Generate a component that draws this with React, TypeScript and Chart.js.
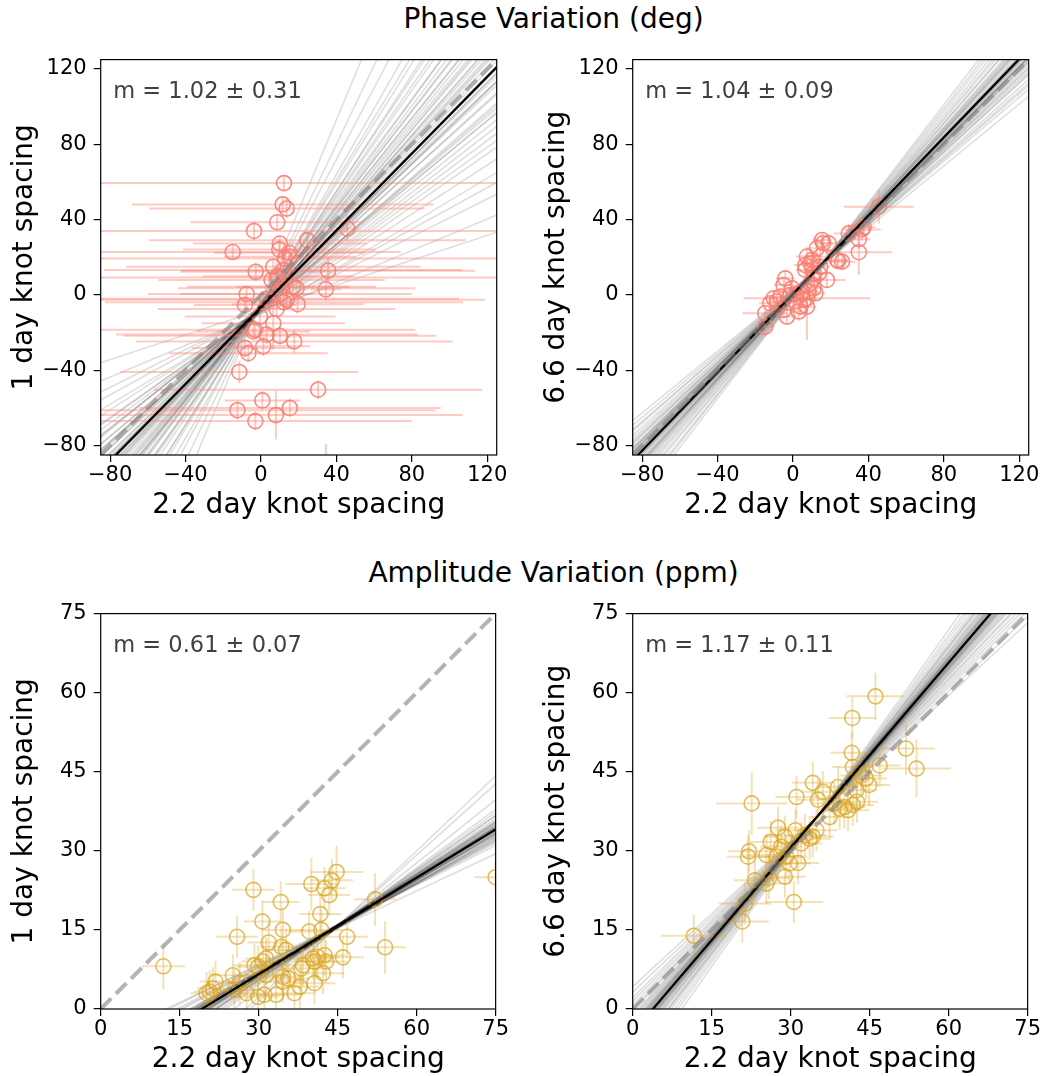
import React, { useEffect, useRef } from 'react';
import { Chart, registerables } from 'chart.js';

Chart.register(...registerables);

const FONT = "'DejaVu Sans', 'Liberation Sans', sans-serif";

// ---------- axis ranges / ticks ----------
const phaseRange = [-85, 125];
const phaseTicks = [-80, -40, 0, 40, 80, 120];
const ampRange = [0, 75];
const ampTicks = [0, 15, 30, 45, 60, 75];

// ---------- Phase: 1 day vs 2.2 day ----------
const tlX = [12.2, 11.5, 13.6, 8.6, -3.7, 45.7, 24.5, 10.0, 9.7, -15.0, 15.0, 12.7, 6.5, -2.8, 35.6, 11.8, 5.6, 8.3, 17.0, 18.9, 34.4, -7.6, -8.5, 12.2, 19.4, 8.3, 13.6, -0.5, 6.5, -3.2, -4.0, 3.0, 10.0, 17.6, 1.2, -8.5, -6.7, -11.5, 30.3, 0.7, -12.5, 15.3, 7.9, -3.0, 34.4, 9.0, 15.3, 11.0, 3.0, 10.0];
const tlY = [59.4, 48.1, 45.9, 38.6, 34.0, 35.3, 29.1, 27.3, 24.2, 22.8, 22.4, 19.4, 15.0, 12.3, 12.9, 13.2, 7.9, 9.3, 4.4, 3.5, 3.0, 0.5, -5.3, -3.9, -4.9, -7.4, -2.6, -11.5, -15.0, -18.5, -19.4, -21.0, -21.7, -24.7, -27.3, -28.2, -30.9, -40.9, -50.3, -56.0, -61.2, -60.0, -63.8, -67.0, -95.0, 10.0, 20.3, 4.4, -2.0, 0.5];
const tlXErr = [120, 80, 73, 46, 130, 6, 84, 46, 51, 89, 40, 120, 78, 40, 78, 95, 60, 125, 30, 63, 8, 35, 27, 95, 35, 63, 105, 40, 38, 85, 30, 80, 83, 84, 25, 28, 42, 63, 87, 20, 105, 80, 99, 83, 10, 40, 35, 50, 102, 70];
const tlYErr = [4, 4, 5, 4, 5, 7, 4, 4, 5, 4, 4, 4, 4, 5, 7, 4, 4, 4, 4, 4, 6, 4, 5, 4, 5, 4, 4, 4, 14, 4, 4, 5, 5, 6, 5, 5, 5, 6, 5, 5, 5, 5, 13, 5, 16, 4, 4, 4, 4, 4];
const tlSlopes = [1.02, 0.85, 1.2, 0.95, 1.1, 0.7, 1.35, 0.33, 1.55, 0.9, 1.28, 0.6, 1.75, 1.05, 0.78, 1.45, 0.98, 2.1, 0.5, 1.15, 1.65, 0.88, 1.25, 0.42, 1.38, 0.93, 1.08, 2.4, 0.72, 1.18, 0.82, 1.5, 1.0, 0.65, 1.3, 1.9, 0.97, 1.12, 0.55, 1.6, 0.8, 1.22, 1.42, 0.75, 1.03, 1.0, 1.06, 0.92, 1.14, 0.87, 1.19, 1.01, 0.96, 1.09, 1.24, 0.84, 1.33];
const tlIntercepts = [-6.5, -7, -8, -5, -6, -9, -4, -8, -7, -6, -5, -10, -6, -7, -8, -5, -6, -4, -9, -7, -5, -8, -6, -10, -7, -5, -6, -3, -8, -7, -6, -5, -7, -9, -6, -4, -8, -6, -9, -5, -7, -6, -5, -8, -7, -7, -6, -7.5, -6.5, -8, -5.5, -6, -7, -6, -5.5, -8, -6];
const tlFitM = 1.02;
const tlFitB = -6.5;

// ---------- Phase: 6.6 day vs 2.2 day ----------
const trX = [45.5, 29.6, 36.5, 34.9, 34.9, 15.4, 18.9, 12.7, 7.4, 9.2, 6.5, 23.4, 26.0, 14.5, 18.0, -4.1, -5.0, 11.0, 11.9, 7.4, 1.2, 3.9, 3.0, -3.2, -12.0, -14.7, -14.7, -8.5, -1.4, -6.7, 2.1, 4.8, 9.2, 11.0, 14.5, 10.1, 6.5, 13.6, -0.5, 5.7, 7.4, -10.3, -5.0, 8.3, 11.0, 37.5, 16.0, 24.0];
const trY = [46.9, 32.7, 34.8, 29.6, 22.7, 29.2, 27.4, 24.8, 20.4, 16.8, 15.9, 18.6, 17.7, 15.0, 8.0, 8.8, 5.3, 11.5, 0.9, -1.8, -3.5, -6.2, -8.8, -11.5, -4.4, -9.7, -16.8, -3.5, 0.0, -0.9, 0.9, 1.8, 6.2, 8.8, 20.4, 18.6, 13.3, 11.5, 3.5, -2.7, -6.2, -1.8, -8.0, 1.8, 3.5, 35.9, 27.5, 18.0];
const trXErr = [18.6, 8, 10, 6, 17.7, 5, 5, 6, 6, 5, 6, 6, 7, 5, 10, 5, 5, 5, 5, 33.6, 5, 5, 5, 5, 6, 12, 5, 5, 5, 5, 5, 5, 5, 5, 5, 5, 5, 5, 5, 5, 5, 5, 5, 5, 5, 6, 5, 5];
const trYErr = [9, 5, 6, 5, 12, 4, 4, 4, 4, 4, 4, 4, 4, 4, 4, 4, 4, 4, 4, 22, 4, 4, 5, 4, 4, 4, 5, 4, 4, 4, 4, 4, 4, 4, 4, 4, 4, 4, 4, 4, 4, 4, 4, 4, 4, 5, 4, 4];
const trSlopes = [1.04, 0.95, 1.1, 0.88, 1.15, 1.0, 1.2, 0.92, 1.06, 0.98, 1.25, 0.85, 1.12, 1.02, 0.96, 1.18, 0.9, 1.08, 1.3, 0.94, 1.13, 1.0, 0.87, 1.22, 1.05, 0.99, 1.16, 0.93, 1.09, 1.03, 0.82, 1.27, 1.01, 0.97, 1.11, 1.04, 1.02, 1.06, 1.0, 1.08, 1.03, 1.05, 0.98, 1.1, 1.01];
const trIntercepts = [0.5, 1.5, -0.5, 2.5, -1, 1, -2, 2, 0, 1.5, -2.5, 3, -1, 0.5, 1, -1.5, 2, 0, -3, 1.5, -1, 0.5, 2.5, -2, 0, 1, -1.5, 1.5, -0.5, 0.5, 3, -2.5, 0, 1, -0.5, 0, 1, -0.5, 1.5, -1, 0.5, 0, 1, -1, 0.5];
const trFitM = 1.04;
const trFitB = 0.5;

// ---------- Amplitude: 1 day vs 2.2 day ----------
const blX = [11.9, 29.0, 25.9, 30.7, 34.2, 34.6, 31.9, 40.0, 41.7, 42.5, 43.4, 43.9, 44.8, 39.6, 41.9, 46.8, 52.1, 54.0, 46.0, 75.0, 25.1, 21.8, 20.7, 20.1, 21.3, 29.2, 30.8, 31.4, 34.3, 35.2, 38.4, 38.1, 40.3, 41.2, 42.5, 42.8, 40.6, 42.2, 40.6, 37.8, 36.8, 33.3, 31.1, 29.9, 27.7, 34.6, 35.6, 34.6, 31.4, 25.4, 26.4, 29.9];
const blY = [8.1, 22.6, 13.7, 16.6, 20.3, 15.0, 12.6, 23.7, 18.0, 22.9, 21.6, 24.4, 26.0, 14.7, 15.0, 13.7, 20.8, 11.7, 9.8, 25.0, 6.4, 5.2, 3.3, 3.0, 3.9, 8.3, 9.0, 9.6, 11.8, 11.2, 8.3, 7.7, 9.6, 9.9, 10.2, 9.0, 9.0, 6.8, 4.9, 4.2, 3.0, 2.7, 2.7, 2.3, 3.0, 6.1, 5.8, 5.2, 6.4, 3.6, 4.9, 8.0];
const blXErr = [4.1, 4, 4, 3.5, 3.5, 4, 4, 5, 4, 4, 4, 4, 5, 4, 4, 4, 4, 4, 4, 4, 4, 3, 3, 3, 3, 4, 4, 4, 4, 4, 4, 4, 4, 4, 4, 4, 4, 4, 4, 4, 4, 4, 4, 4, 4, 4, 4, 4, 4, 4, 4, 4];
const blYErr = [4.4, 4, 4, 4, 4, 4, 4, 5, 4, 4, 4, 4, 5, 4, 4, 4, 5, 5, 4, 3, 4, 4, 4, 4, 4, 4, 4, 4, 4, 4, 4, 4, 4, 4, 4, 4, 4, 4, 4, 4, 4, 4, 4, 4, 4, 4, 4, 4, 4, 4, 4, 4];
const blSlopes = [0.61, 0.55, 0.66, 0.58, 0.64, 0.52, 0.7, 0.6, 0.63, 0.57, 0.68, 0.62, 0.5, 0.74, 0.59, 0.65, 0.56, 0.8, 0.62, 0.6, 0.67, 0.54, 0.63, 0.9, 0.58, 0.61, 0.72, 0.64, 0.57, 0.66, 0.95, 0.53, 0.6, 0.69, 0.62, 0.47, 0.6, 0.62, 0.59, 0.63, 0.61, 0.58, 0.64, 0.6, 0.62, 0.57];
const blIntercepts = [-11.75, -9.3, -13.8, -10.4, -13.4, -7.5, -15.8, -11.0, -12.9, -9.7, -14.9, -12.4, -6.5, -17.6, -10.6, -13.3, -9.7, -20.3, -11.9, -11.6, -14.7, -8.4, -12.3, -24.8, -10.9, -11.4, -16.7, -12.8, -10.2, -14.2, -27.0, -8.0, -11.5, -15.1, -12.5, -5.8, -11.3, -12.2, -10.85, -12.65, -11.75, -10.4, -13.1, -11.1, -12.0, -9.95];
const blFitM = 0.61;
const blFitB = -11.7;

// ---------- Amplitude: 6.6 day vs 2.2 day ----------
const brX = [11.6, 20.8, 21.3, 21.9, 22.1, 22.6, 23.2, 25.4, 25.9, 25.4, 26.2, 27.6, 27.3, 28.9, 28.9, 29.8, 30.6, 31.1, 30.9, 31.4, 32.0, 34.2, 35.2, 36.1, 34.2, 34.9, 37.4, 39.3, 41.7, 41.6, 46.1, 41.8, 42.6, 40.9, 40.2, 44.9, 44.3, 46.9, 51.9, 53.9, 42.5, 32.7, 33.6, 38.3, 41.8, 39.0, 43.4, 29.2, 28.2];
const brY = [13.9, 16.6, 20.0, 28.9, 29.9, 39.0, 24.4, 23.8, 24.8, 29.2, 31.7, 34.4, 28.9, 25.1, 32.7, 27.6, 20.3, 40.2, 33.9, 27.7, 31.4, 42.9, 39.7, 41.2, 32.7, 33.9, 36.4, 38.0, 55.2, 48.6, 59.3, 45.9, 39.3, 37.7, 38.3, 42.5, 43.7, 46.2, 49.4, 45.6, 41.5, 33.0, 32.3, 39.0, 38.7, 42.1, 44.3, 28.9, 30.8];
const brXErr = [6.2, 5, 5, 4, 4, 6.8, 4, 4, 4, 4, 4, 4, 4, 4, 4, 4, 5.5, 4, 4, 4, 4, 4, 4, 4, 4, 4, 4, 4, 4.5, 4, 5.5, 4, 4, 4, 4, 4, 4, 4, 5.5, 6.5, 4, 4, 4, 4, 4, 4, 4, 4, 4];
const brYErr = [4, 4, 4, 4, 4, 6, 4, 4, 4, 4, 4, 4, 4, 4, 4, 4, 4, 4, 4, 4, 4, 4, 4, 4, 4, 4, 4, 4, 4, 4, 4.5, 4, 4, 4, 4, 4, 4, 4, 5, 5.5, 4, 4, 4, 4, 4, 4, 4, 4, 4];
const brSlopes = [1.17, 1.05, 1.28, 1.1, 1.22, 0.98, 1.35, 1.14, 1.2, 1.08, 1.3, 1.16, 0.92, 1.42, 1.12, 1.25, 1.02, 1.19, 1.15, 1.26, 1.07, 1.38, 1.13, 1.21, 1.0, 1.32, 1.18, 1.09, 1.24, 0.95, 1.11, 1.29, 1.16, 1.04, 1.23, 1.17, 1.15, 1.19, 1.13, 1.21, 1.16, 1.18, 1.14, 1.2, 1.12];
const brIntercepts = [-4.5, -0.3, -8.35, -2.05, -6.25, 2.15, -10.8, -3.45, -5.55, -1.35, -9.05, -4.15, 4.25, -13.25, -2.75, -7.3, 0.75, -5.2, -3.8, -7.65, -1.0, -11.85, -3.1, -5.9, 1.45, -9.75, -4.85, -1.7, -6.95, 3.2, -2.4, -8.7, -4.15, 0.05, -6.6, -4.5, -3.8, -5.2, -3.1, -5.9, -4.15, -4.85, -3.45, -5.55, -2.75];
const brFitM = 1.17;
const brFitB = -4.5;

// ---------- colours ----------
const salmonPoint = 'rgba(250,128,114,0.9)';
const salmonBar = 'rgba(250,128,114,0.42)';
const goldPoint = 'rgba(218,165,32,0.72)';
const goldBar = 'rgba(218,165,32,0.32)';
const sampleColor = 'rgba(0,0,0,0.13)';

const CANVAS_W = 510;
const CANVAS_H = 483;
const LABEL_SIZE = 28;

const errorBarPlugin = {
  id: 'errbars',
  beforeDatasetDraw(chart: any, args: any) {
    const ds = chart.data.datasets[args.index];
    if (!ds.errX) return;
    const { ctx, chartArea } = chart;
    const xs = chart.scales.x;
    const ys = chart.scales.y;
    ctx.save();
    ctx.beginPath();
    ctx.rect(chartArea.left, chartArea.top, chartArea.right - chartArea.left, chartArea.bottom - chartArea.top);
    ctx.clip();
    ctx.strokeStyle = ds.errColor;
    ctx.lineWidth = 2;
    ds.data.forEach((p: any, i: number) => {
      const px = xs.getPixelForValue(p.x);
      const py = ys.getPixelForValue(p.y);
      ctx.beginPath();
      ctx.moveTo(xs.getPixelForValue(p.x - ds.errX[i]), py);
      ctx.lineTo(xs.getPixelForValue(p.x + ds.errX[i]), py);
      ctx.stroke();
      ctx.beginPath();
      ctx.moveTo(px, ys.getPixelForValue(p.y - ds.errY[i]));
      ctx.lineTo(px, ys.getPixelForValue(p.y + ds.errY[i]));
      ctx.stroke();
    });
    ctx.restore();
  },
};

const framePlugin = {
  id: 'frame',
  afterDraw(chart: any, _args: any, opts: any) {
    const { ctx, chartArea } = chart;
    const { left, top, right, bottom } = chartArea;
    ctx.save();
    ctx.strokeStyle = '#000';
    ctx.lineWidth = 1.2;
    ctx.strokeRect(left, top, right - left, bottom - top);
    ctx.font = `22.5px ${FONT}`;
    ctx.fillStyle = '#404040';
    ctx.textBaseline = 'alphabetic';
    ctx.textAlign = 'left';
    ctx.fillText(opts.text, left + 12.6, top + 38.7);
    ctx.restore();
  },
};

const fmt = (v: any) => String(v).replace('-', '\u2212');

type PanelProps = {
  left: number;
  top: number;
  xs: number[];
  ys: number[];
  xErr: number[];
  yErr: number[];
  slopes: number[];
  intercepts: number[];
  fitM: number;
  fitB: number;
  range: number[];
  ticks: number[];
  yLabel: string;
  mText: string;
  pointColor: string;
  barColor: string;
};

function Panel(p: PanelProps) {
  const ref = useRef<HTMLCanvasElement>(null);
  useEffect(() => {
    if (!ref.current) return;
    const [lo, hi] = p.range;
    const datasets: any[] = [];
    p.slopes.forEach((m, i) => {
      const b = p.intercepts[i];
      datasets.push({
        data: [
          { x: lo, y: m * lo + b },
          { x: hi, y: m * hi + b },
        ],
        showLine: true,
        borderColor: sampleColor,
        borderWidth: 1.6,
        pointRadius: 0,
        order: 10,
      });
    });
    datasets.push({
      data: p.xs.map((x, i) => ({ x, y: p.ys[i] })),
      showLine: false,
      pointRadius: 7.5,
      pointBorderWidth: 1.6,
      pointBorderColor: p.pointColor,
      pointBackgroundColor: 'rgba(0,0,0,0)',
      borderColor: p.pointColor,
      backgroundColor: 'rgba(0,0,0,0)',
      errX: p.xErr,
      errY: p.yErr,
      errColor: p.barColor,
      order: 5,
    });
    datasets.push({
      data: [
        { x: lo, y: p.fitM * lo + p.fitB },
        { x: hi, y: p.fitM * hi + p.fitB },
      ],
      showLine: true,
      borderColor: '#000',
      borderWidth: 2.2,
      pointRadius: 0,
      order: 2,
    });
    datasets.push({
      data: [
        { x: lo, y: lo },
        { x: hi, y: hi },
      ],
      showLine: true,
      borderColor: 'rgba(128,128,128,0.6)',
      borderWidth: 4,
      borderDash: [15, 6.5],
      pointRadius: 0,
      order: 1,
    });

    const tickOpts = (pad: number) => ({
      font: { family: FONT, size: 21 },
      color: '#000',
      padding: pad,
      maxRotation: 0,
      autoSkip: false,
      callback: (v: any) => fmt(v),
    });
    const gridOpts = {
      drawOnChartArea: false,
      drawTicks: true,
      tickLength: 7,
      color: '#000',
      lineWidth: 1.2,
    };

    const chart = new Chart(ref.current, {
      type: 'scatter',
      data: { datasets },
      options: {
        animation: false,
        responsive: false,
        events: [],
        layout: { padding: { left: 0, right: 13.3, top: 19.3, bottom: 0 } },
        plugins: {
          legend: { display: false },
          tooltip: { enabled: false },
          frame: { text: p.mText },
        } as any,
        scales: {
          x: {
            type: 'linear',
            min: lo,
            max: hi,
            afterBuildTicks: (s: any) => {
              s.ticks = p.ticks.map((v) => ({ value: v }));
            },
            afterFit: (s: any) => {
              s.height = 68;
            },
            grid: gridOpts,
            border: { display: false },
            ticks: tickOpts(1),
            title: {
              display: true,
              text: '2.2 day knot spacing',
              font: { family: FONT, size: LABEL_SIZE },
              color: '#000',
              padding: { top: 0, bottom: 0 },
            },
          },
          y: {
            type: 'linear',
            min: lo,
            max: hi,
            afterBuildTicks: (s: any) => {
              s.ticks = p.ticks.map((v) => ({ value: v }));
            },
            afterFit: (s: any) => {
              s.width = 100.7;
            },
            grid: gridOpts,
            border: { display: false },
            ticks: tickOpts(7),
            title: {
              display: true,
              text: p.yLabel,
              font: { family: FONT, size: LABEL_SIZE },
              color: '#000',
              padding: { top: 7.5, bottom: 0 },
            },
          },
        },
      } as any,
      plugins: [errorBarPlugin, framePlugin],
    });
    return () => chart.destroy();
  }, []);
  return (
    <canvas
      ref={ref}
      width={CANVAS_W}
      height={CANVAS_H}
      style={{ position: 'absolute', left: p.left, top: p.top, width: CANVAS_W, height: CANVAS_H }}
    />
  );
}

const titleStyle = (top: number): React.CSSProperties => ({
  position: 'absolute',
  left: 553.5,
  top,
  transform: 'translateX(-50%)',
  fontFamily: FONT,
  fontSize: LABEL_SIZE,
  lineHeight: `${LABEL_SIZE}px`,
  whiteSpace: 'nowrap',
  color: '#000',
});

export default function App() {
  return (
    <div
      style={{
        position: 'absolute',
        left: 0,
        top: 0,
        width: 1042,
        height: 1076,
        overflow: 'hidden',
        background: '#fff',
      }}
    >
      <div style={titleStyle(4.5)}>Phase Variation (deg)</div>
      <div style={titleStyle(558.5)}>Amplitude Variation (ppm)</div>
      <Panel
        left={0}
        top={40}
        xs={tlX}
        ys={tlY}
        xErr={tlXErr}
        yErr={tlYErr}
        slopes={tlSlopes}
        intercepts={tlIntercepts}
        fitM={tlFitM}
        fitB={tlFitB}
        range={phaseRange}
        ticks={phaseTicks}
        yLabel="1 day knot spacing"
        mText="m = 1.02 ± 0.31"
        pointColor={salmonPoint}
        barColor={salmonBar}
      />
      <Panel
        left={532}
        top={40}
        xs={trX}
        ys={trY}
        xErr={trXErr}
        yErr={trYErr}
        slopes={trSlopes}
        intercepts={trIntercepts}
        fitM={trFitM}
        fitB={trFitB}
        range={phaseRange}
        ticks={phaseTicks}
        yLabel="6.6 day knot spacing"
        mText="m = 1.04 ± 0.09"
        pointColor={salmonPoint}
        barColor={salmonBar}
      />
      <Panel
        left={0}
        top={594}
        xs={blX}
        ys={blY}
        xErr={blXErr}
        yErr={blYErr}
        slopes={blSlopes}
        intercepts={blIntercepts}
        fitM={blFitM}
        fitB={blFitB}
        range={ampRange}
        ticks={ampTicks}
        yLabel="1 day knot spacing"
        mText="m = 0.61 ± 0.07"
        pointColor={goldPoint}
        barColor={goldBar}
      />
      <Panel
        left={532}
        top={594}
        xs={brX}
        ys={brY}
        xErr={brXErr}
        yErr={brYErr}
        slopes={brSlopes}
        intercepts={brIntercepts}
        fitM={brFitM}
        fitB={brFitB}
        range={ampRange}
        ticks={ampTicks}
        yLabel="6.6 day knot spacing"
        mText="m = 1.17 ± 0.11"
        pointColor={goldPoint}
        barColor={goldBar}
      />
    </div>
  );
}
